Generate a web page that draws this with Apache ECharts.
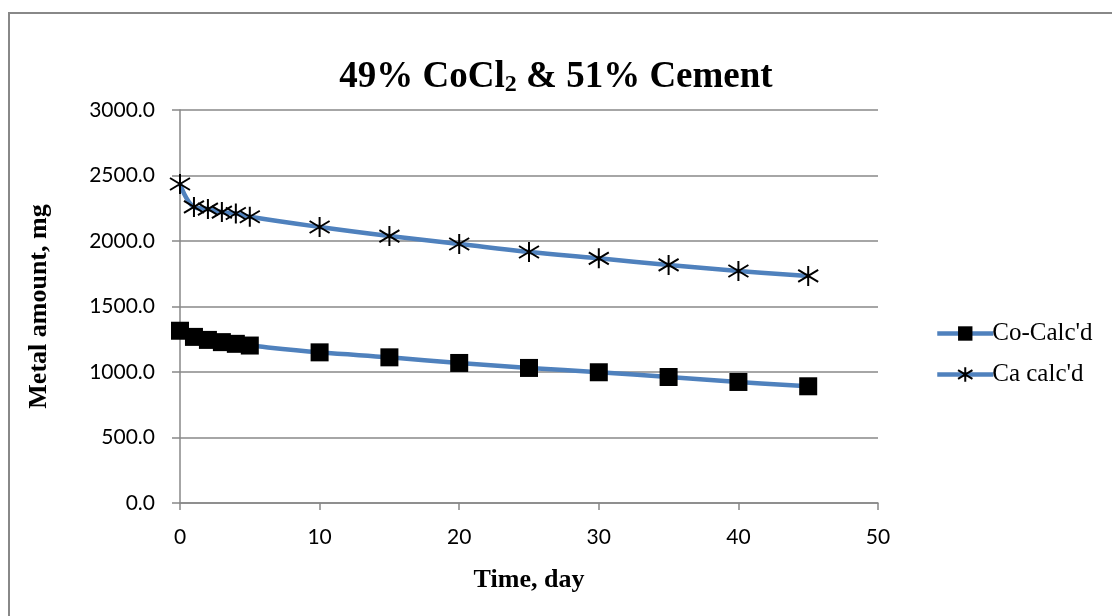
<!DOCTYPE html>
<html><head><meta charset="utf-8">
<script src="https://cdn.jsdelivr.net/npm/echarts@6/dist/echarts.min.js"></script>
<style>html,body{margin:0;padding:0;background:#fff}#c{width:1112px;height:616px}</style>
</head><body><div id="c"></div>
<script>
const days = [0, 1, 2, 3, 4, 5, 10, 15, 20, 25, 30, 35, 40, 45];
const coCalcd = [1315, 1268, 1245, 1228, 1215, 1202, 1150, 1112, 1069, 1031, 998, 962, 924, 891];
const caCalcd = [2435, 2260, 2244, 2221, 2210, 2185, 2107, 2038, 1977, 1916, 1868, 1817, 1771, 1733];
const seriesNames = ["Co-Calc'd", "Ca calc'd"];

const pair = (xs, ys) => xs.map((x, i) => [x, ys[i]]);
const star = 'path://M0,-10L0,10M-9,-6L9,6M-9,6L9,-6';
const lineColor = '#4F81BD';
const chart = echarts.init(document.getElementById('c'), null, {renderer: 'canvas'});
chart.setOption({
  animation: false,
  backgroundColor: '#fff',
  graphic: [{type: 'rect', shape: {x: 9, y: 13, width: 1200, height: 700},
    style: {fill: 'none', stroke: '#888', lineWidth: 2}, z: -1}],
  title: {
    text: '{t|49% CoCl}{s|2}{t| & 51% Cement}',
    left: 'center', top: 52,
    textStyle: {rich: {
      t: {fontFamily: 'Liberation Serif', fontWeight: 'bold', fontSize: 37, color: '#000'},
      s: {fontFamily: 'Liberation Serif', fontWeight: 'bold', fontSize: 24, color: '#000', padding: [16, 0, 0, 0]}
    }}
  },
  legend: {
    orient: 'vertical', left: 930, top: 316, itemGap: 16, itemWidth: 56, itemHeight: 18,
    textStyle: {fontFamily: 'Liberation Serif', fontSize: 25, color: '#000', padding: [0, 0, 0, -6]},
    lineStyle: {width: 4.5},
    data: seriesNames
  },
  grid: {left: 180, right: 234, top: 110, bottom: 113},
  xAxis: {
    type: 'value', min: 0, max: 50, interval: 10,
    name: 'Time, day', nameLocation: 'middle', nameGap: 64,
    nameTextStyle: {fontFamily: 'Liberation Serif', fontWeight: 'bold', fontSize: 26, color: '#000'},
    axisLine: {show: true, onZero: false, lineStyle: {color: '#888', width: 1.5}},
    axisTick: {show: true, length: 7, lineStyle: {color: '#888', width: 1.5}},
    axisLabel: {fontFamily: 'Lato', fontSize: 21, color: '#000', margin: 24},
    splitLine: {show: false}
  },
  yAxis: {
    type: 'value', min: 0, max: 3000, interval: 500,
    name: 'Metal amount, mg', nameLocation: 'middle', nameGap: 128, nameRotate: 90,
    nameTextStyle: {fontFamily: 'Liberation Serif', fontWeight: 'bold', fontSize: 26, color: '#000'},
    axisLine: {show: true, lineStyle: {color: '#888', width: 1.5}},
    axisTick: {show: true, length: 8, lineStyle: {color: '#888', width: 1.5}},
    axisLabel: {fontFamily: 'Lato', fontSize: 21, color: '#000', margin: 25,
      formatter: v => v.toFixed(1)},
    splitLine: {show: true, lineStyle: {color: '#888', width: 1.5}}
  },
  series: [
    {name: seriesNames[0], type: 'line', smooth: 0.4, data: pair(days, coCalcd),
      symbol: 'rect', symbolSize: 18, showAllSymbol: true,
      lineStyle: {color: lineColor, width: 4.5},
      itemStyle: {color: '#000', borderColor: '#000', borderWidth: 0}},
    {name: seriesNames[1], type: 'line', smooth: 0.4, data: pair(days, caCalcd),
      symbol: star, symbolSize: [20, 20], showAllSymbol: true,
      lineStyle: {color: lineColor, width: 4.5},
      itemStyle: {color: 'none', borderColor: '#000', borderWidth: 2}}
  ]
});
</script></body></html>
